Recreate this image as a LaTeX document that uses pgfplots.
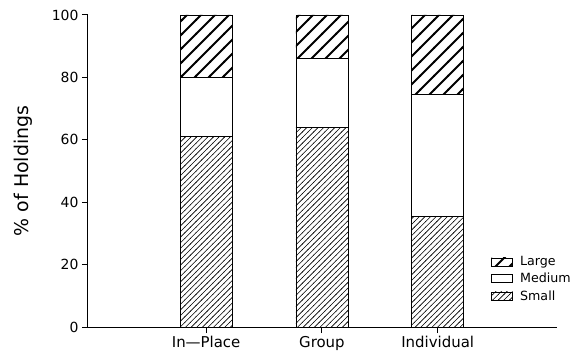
\documentclass[border=0pt]{standalone}
\usepackage{pgfplots}
\pgfplotsset{compat=1.18}
\usepackage{pgfplotstable}
\usepackage{fontspec}
\setmainfont{DejaVu Sans}
\usetikzlibrary{patterns}

% coarse, heavy diagonal hatching for the "Large" class
\pgfdeclarepatternformonly{heavy ne}{\pgfpoint{-1bp}{-1bp}}{\pgfpoint{15bp}{15bp}}{\pgfpoint{14bp}{14bp}}{%
  \pgfsetlinewidth{2bp}%
  \pgfpathmoveto{\pgfpoint{-0.7bp}{-0.7bp}}%
  \pgfpathlineto{\pgfpoint{14.7bp}{14.7bp}}%
  \pgfusepath{stroke}}
% fine, light diagonal hatching for the "Small" class
\pgfdeclarepatternformonly{fine ne}{\pgfpoint{-1bp}{-1bp}}{\pgfpoint{6.6bp}{6.6bp}}{\pgfpoint{5.6bp}{5.6bp}}{%
  \pgfsetlinewidth{0.6bp}%
  \pgfpathmoveto{\pgfpoint{-0.3bp}{-0.3bp}}%
  \pgfpathlineto{\pgfpoint{5.9bp}{5.9bp}}%
  \pgfusepath{stroke}}

% share of holdings (%) by size class for each arrangement
\pgfplotstableread{
cat small medium large
0   61    19     20
1   64    22     14
2   35.5  39     25.5
}\holdings

\begin{document}
\begin{tikzpicture}
\begin{axis}[
  scale only axis, width=469bp, height=312bp,
  ybar stacked, bar width=52bp,
  xmin=-1.02, xmax=3.03, ymin=0, ymax=100,
  xtick={0,1,2}, xticklabels={In---Place, Group, Individual},
  ytick={0,20,...,100},
  axis x line=bottom, axis y line=left,
  axis line style={-, line width=1bp},
  tick align=outside, major tick length=6bp,
  tick style={black, line width=1bp},
  /pgf/number format/assume math mode=true,
  xticklabel style={font=\fontsize{15}{17}\selectfont},
  yticklabel style={font=\fontsize{14}{16}\selectfont},
  ylabel={\% of Holdings},
  every axis y label/.style={at={(axis description cs:-0.139,0.5)}, rotate=90,
    anchor=center, font=\fontsize{19}{21}\selectfont},
  legend style={draw=none, fill=none, at={(0.86,0.232)}, anchor=north west,
    font=\fontsize{12.7}{14}\selectfont, row sep=2bp, cells={anchor=west},
    inner sep=0pt, outer sep=0pt,
    /tikz/every odd column/.append style={column sep=5bp}},
  reverse legend,
  legend image code/.code={\draw[#1, line width=0.8bp] (0bp,-4bp) rectangle (21bp,4bp);},
  clip=false,
]
\addplot[draw=black, line width=0.8bp, fill=white, pattern=fine ne]
  table[x=cat, y=small] {\holdings};
\addplot[draw=black, line width=0.8bp, fill=white]
  table[x=cat, y=medium] {\holdings};
\addplot[draw=black, line width=0.8bp, pattern=heavy ne]
  table[x=cat, y=large] {\holdings};
\legend{Small, Medium, Large}
\coordinate (o) at (rel axis cs:0,0);
\end{axis}
\pgfresetboundingbox
\path ([shift={(-88bp,-29bp)}]o) rectangle ([shift={(487bp,327bp)}]o);
\end{tikzpicture}
\end{document}
